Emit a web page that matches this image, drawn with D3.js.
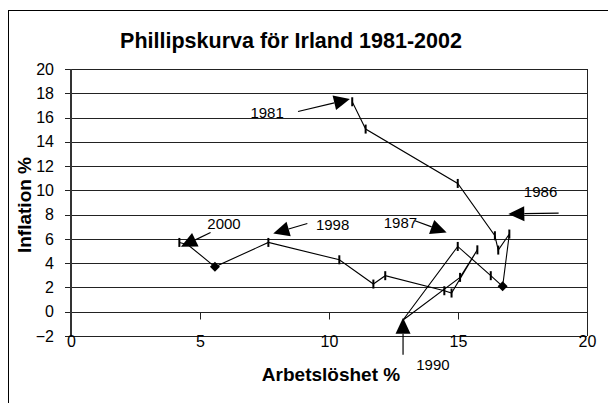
<!DOCTYPE html>
<html>
<head>
<meta charset="utf-8">
<script src="https://cdn.jsdelivr.net/npm/d3@7/dist/d3.min.js"></script>
<style>
  html, body { margin: 0; padding: 0; background: #fff; }
  svg { display: block; }
  text { font-family: "Liberation Sans", Arial, sans-serif; fill: #000; }
</style>
</head>
<body>
<svg id="chart" width="608" height="403"></svg>
<script>
// ---- data ----
const years        = [1981,1982,1983,1984,1985,1986,1987,1988,1989,1990,1991,1992,1993,1994,1995,1996,1997,1998,1999,2000,2001];
const unemployment = [10.9, 11.42, 14.99, 16.43, 16.56, 16.99, 16.73, 16.27, 14.99, 12.86, 15.08, 15.75, 14.75, 14.47, 12.18, 11.72, 10.4, 7.65, 5.58, 4.53, 4.2];
const inflation    = [17.3, 15.05, 10.57, 6.26, 5.08, 6.4, 2.09, 2.97, 5.38, -0.7, 2.83, 5.1, 1.54, 1.73, 2.97, 2.28, 4.28, 5.71, 3.7, 5.52, 5.71];
const diamondYears = [1987, 1999];
const hiddenYears  = [1990, 2000];   // covered by arrowheads
const xTicks = [0, 5, 10, 15, 20];
const yTicks = [-2, 0, 2, 4, 6, 8, 10, 12, 14, 16, 18, 20];

// annotation arrows in data units: label, text centre, tail, tip
const annLabels = ["1981", "1986", "1987", "1998", "2000", "1990"];
const annText   = [[7.6, 16.42], [18.2, 9.88], [12.77, 7.33], [10.14, 7.22], [5.93, 7.27], [14.03, -4.37]];
const annTail   = [[8.8, 16.5], [18.9, 8.13], [13.33, 7.5], [9.16, 7.27], [5.41, 6.53], [12.87, -3.54]];
const annTip    = [[10.81, 17.52], [16.95, 8.05], [14.56, 6.53], [7.84, 6.45], [4.26, 5.35], [12.87, -0.5]];

const title = "Phillipskurva för Irland 1981-2002";
const xTitle = "Arbetslöshet %";
const yTitle = "Inflation %";

// ---- layout ----
const svg = d3.select("#chart");
const x = d3.scaleLinear().domain([0, 20]).range([71, 587]);
const y = d3.scaleLinear().domain([-2, 20]).range([336, 69]);

// outer chart border
svg.append("rect").attr("x", 8.5).attr("y", 10.5).attr("width", 700).attr("height", 500)
  .attr("fill", "#fff").attr("stroke", "#000").attr("stroke-width", 1);

// title
svg.append("text").attr("x", 291).attr("y", 48).attr("text-anchor", "middle")
  .style("font-size", "21.5px").style("font-weight", "bold").text(title);

// gridlines
svg.append("g").selectAll("line").data(yTicks).join("line")
  .attr("x1", 65).attr("x2", 587)
  .attr("y1", d => Math.round(y(d)) + 0.5).attr("y2", d => Math.round(y(d)) + 0.5)
  .attr("stroke", "#222").attr("stroke-width", 1);

// plot right border
svg.append("line").attr("x1", 587.5).attr("x2", 587.5).attr("y1", y(20)).attr("y2", y(-2))
  .attr("stroke", "#222");

// y axis
const yAxis = svg.append("g").attr("transform", "translate(71,0)")
  .call(d3.axisLeft(y).tickValues(yTicks).tickSize(0).tickPadding(17).tickFormat(d3.format("d")));
yAxis.select(".domain").remove();
yAxis.selectAll("text").style("font-size", "16px").style("font-family", "Liberation Sans, Arial, sans-serif");
svg.append("line").attr("x1", 71).attr("x2", 71).attr("y1", y(20)).attr("y2", y(-2))
  .attr("stroke", "#333").attr("stroke-width", 2);

// x axis tick marks on y = 0
const xAxis0 = svg.append("g").attr("transform", `translate(0,${Math.round(y(0)) + 0.5})`)
  .call(d3.axisBottom(x).tickValues(xTicks.slice(1, 4)).tickSize(7).tickFormat(""));
xAxis0.select(".domain").remove();
xAxis0.selectAll("line").attr("stroke", "#222");

// x tick labels at the bottom line
const xAxisB = svg.append("g").attr("transform", `translate(0,${Math.round(y(-2))})`)
  .call(d3.axisBottom(x).tickValues(xTicks).tickSize(0).tickPadding(0).tickFormat(d3.format("d")));
xAxisB.select(".domain").remove();
xAxisB.selectAll("text").style("font-size", "16px").style("font-family", "Liberation Sans, Arial, sans-serif");

// axis titles
svg.append("text").attr("x", 331).attr("y", 381).attr("text-anchor", "middle")
  .style("font-size", "19px").style("font-weight", "bold").text(xTitle);
svg.append("text").attr("transform", "translate(31,205) rotate(-90)").attr("text-anchor", "middle")
  .style("font-size", "19px").style("font-weight", "bold").text(yTitle);

// data
const pts = years.map((yr, i) => ({ yr, u: unemployment[i], v: inflation[i] }));
svg.append("path").datum(pts)
  .attr("d", d3.line().x(d => x(d.u)).y(d => y(d.v)))
  .attr("fill", "none").attr("stroke", "#000").attr("stroke-width", 1.1);

// bar markers
svg.append("g").selectAll("line")
  .data(pts.filter(d => !diamondYears.includes(d.yr) && !hiddenYears.includes(d.yr)))
  .join("line")
  .attr("x1", d => x(d.u)).attr("x2", d => x(d.u))
  .attr("y1", d => y(d.v) - 4.5).attr("y2", d => y(d.v) + 4.5)
  .attr("stroke", "#000").attr("stroke-width", 2);

// diamond markers
svg.append("g").selectAll("path")
  .data(pts.filter(d => diamondYears.includes(d.yr)))
  .join("path")
  .attr("transform", d => `translate(${x(d.u)},${y(d.v)})`)
  .attr("d", "M0,-5L5,0L0,5L-5,0Z").attr("fill", "#000");

// annotations
const ann = svg.append("g");
annLabels.forEach((lab, i) => {
  const tx = x(annTip[i][0]), ty = y(annTip[i][1]);
  const sx = x(annTail[i][0]), sy = y(annTail[i][1]);
  const dx = tx - sx, dy = ty - sy, len = Math.hypot(dx, dy);
  const ux = dx / len, uy = dy / len, L = 16, W = 7.5;
  const bx = tx - ux * L, by = ty - uy * L;
  ann.append("line").attr("x1", sx).attr("y1", sy).attr("x2", bx).attr("y2", by)
    .attr("stroke", "#000").attr("stroke-width", 1.2);
  ann.append("path")
    .attr("d", `M${tx},${ty}L${bx - uy * W},${by + ux * W}L${bx + uy * W},${by - ux * W}Z`)
    .attr("fill", "#000");
  ann.append("text").attr("x", x(annText[i][0])).attr("y", y(annText[i][1]))
    .attr("dy", "0.36em").attr("text-anchor", "middle")
    .style("font-size", "15px").text(lab);
});
</script>
</body>
</html>
